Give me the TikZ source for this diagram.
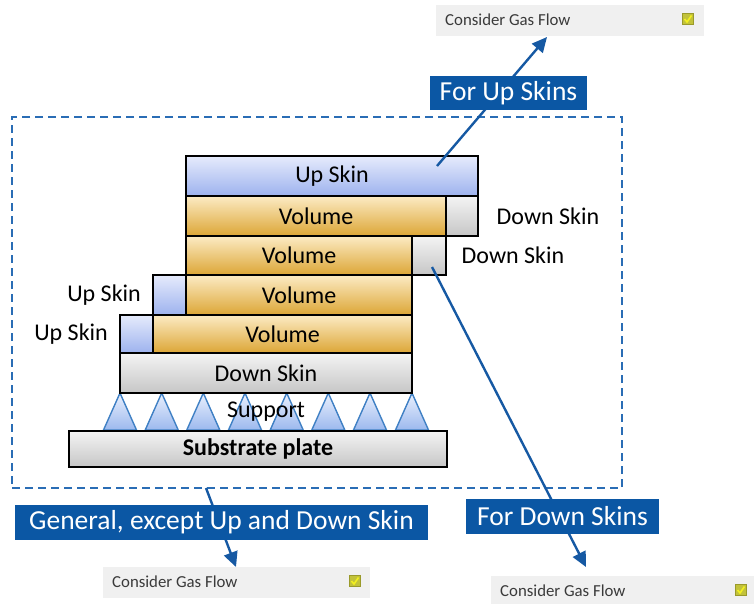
\documentclass[tikz,border=0pt]{standalone}
\usepackage{fontspec}
\setmainfont{Carlito}
\usetikzlibrary{arrows.meta}
\definecolor{lblue}{HTML}{0B57A4}
\definecolor{arrblue}{HTML}{1659A3}
\definecolor{dashblue}{HTML}{2A6DB5}
\definecolor{gfbg}{HTML}{F0F0F0}
\definecolor{gftext}{HTML}{3A3A3A}
\definecolor{HTML_E6EBFC}{HTML}{E6EBFC}
\definecolor{HTML_9DB2EE}{HTML}{9DB2EE}
\definecolor{HTML_FCEBC4}{HTML}{FCEBC4}
\definecolor{HTML_DCA636}{HTML}{DCA636}
\definecolor{HTML_F4F4F4}{HTML}{F4F4F4}
\definecolor{HTML_C6C6C6}{HTML}{C6C6C6}
\definecolor{HTML_3F80C4}{HTML}{3F80C4}
\definecolor{HTML_EAF0FD}{HTML}{EAF0FD}
\definecolor{HTML_9CB9EE}{HTML}{9CB9EE}
\definecolor{HTML_9A9A2A}{HTML}{9A9A2A}
\definecolor{chkfill}{HTML}{C2C23A}
\definecolor{chkline}{HTML}{F2F020}
\tikzset{
  shapebox/.style={draw=black, line width=1.6pt, inner sep=0pt, font=\fontsize{24}{28}\selectfont},
  upskin/.style={shapebox, top color=HTML_E6EBFC, bottom color=HTML_9DB2EE},
  volbox/.style={shapebox, top color=HTML_FCEBC4, bottom color=HTML_DCA636},
  greybox/.style={shapebox, top color=HTML_F4F4F4, bottom color=HTML_C6C6C6},
  outlbl/.style={font=\fontsize{24}{28}\selectfont, inner sep=0pt},
  tag/.style={fill=lblue, text=white, inner sep=0pt, font=\fontsize{27.5}{32}\selectfont},
  gfbox/.style={fill=gfbg, inner sep=0pt},
  gftxt/.style={text=gftext, font=\fontsize{16.8}{20}\selectfont, inner sep=0pt, anchor=west},
  conn/.style={draw=arrblue, line width=2.4pt, -{Triangle[length=15pt,width=14pt]}},
  supp/.style={draw=HTML_3F80C4, line width=1.4pt, top color=HTML_EAF0FD, bottom color=HTML_9CB9EE},
}
% box macro: name, style, x1, y1, x2, y2, text
\newcommand\mybx[7]{\node[#2, minimum width={#5-#3}, minimum height={#6-#4}] (#1) at ({(#3+#5)/2},{(#4+#6)/2}) {#7};}
\newcommand\mychk[3]{%
  \node[draw=HTML_9A9A2A, fill=chkfill, line width=0.6pt, minimum size=11pt, inner sep=0pt] (#1) at (#2,#3) {};
  \draw[chkline, line width=1.6pt] ([shift={(-3.5,0)}]#1.center) -- ([shift={(-1,3)}]#1.center) -- ([shift={(3.5,-3.5)}]#1.center);}
\begin{document}
\begin{tikzpicture}[x=1pt,y=-1pt]
\useasboundingbox (0,0) rectangle (754,603);
% dashed region
\node[draw=dashblue, dash pattern=on 8pt off 5pt, line width=1.6pt, minimum width=610pt, minimum height=371pt, inner sep=0pt] (region) at (317,302.5) {};
% support triangles
\foreach \ax in {120,161.7,203.3,245,286.7,328.3,370,412}{
  \path[supp] (\ax,393) -- (\ax+16.5,430) -- (\ax-16.5,430) -- cycle;
}
\node[outlbl] (support) at (266,412) {Support};
% layers
\mybx{topup}{upskin}{186}{156}{478}{196}{Up Skin}
\mybx{vol1}{volbox}{186}{196}{446}{236}{Volume}
\mybx{ds1}{greybox}{446}{196}{478}{236}{}
\mybx{vol2}{volbox}{186}{236}{412}{275}{Volume}
\mybx{ds2}{greybox}{412}{236}{446}{275}{}
\mybx{us3}{upskin}{153}{275}{186}{315}{}
\mybx{vol3}{volbox}{186}{275}{412}{315}{Volume}
\mybx{us4}{upskin}{120}{315}{153}{353}{}
\mybx{vol4}{volbox}{153}{315}{412}{353}{Volume}
\mybx{dsbar}{greybox}{120}{353}{412}{393}{Down Skin}
\mybx{substrate}{greybox}{69}{431}{447}{467}{\bfseries Substrate plate}
% outside labels
\node[outlbl] (lds1) at (548,216) {Down Skin};
\node[outlbl] (lds2) at (513,255) {Down Skin};
\node[outlbl, anchor=east] (lus3) at (141,295) {Up Skin};
\node[outlbl, anchor=east] (lus4) at (108,334) {Up Skin};
% gas flow boxes
\mybx{gftop}{gfbox}{436}{5}{704}{36}{}
\node[gftxt] (gftopt) at (445,20) {Consider Gas Flow};
\mychk{chktop}{688}{19}
\mybx{gfleft}{gfbox}{103}{567}{370}{598}{}
\node[gftxt] (gfleftt) at (112,582) {Consider Gas Flow};
\mychk{chkleft}{355}{581}
\mybx{gfright}{gfbox}{491}{576}{754}{606}{}
\node[gftxt] (gfrightt) at (500,591) {Consider Gas Flow};
\mychk{chkright}{741}{590}
% connectors
\coordinate (sUp) at (437,166);
\coordinate (tUp) at (547,37);
\coordinate (sDown) at (432,267);
\coordinate (tDown) at (586,567);
\coordinate (sGen) at (206,488);
\coordinate (tGen) at (236,567);
\draw[conn] (sUp) -- (tUp);
\draw[conn] (sDown) -- (tDown);
\draw[conn] (sGen) -- (tGen);
% tags
\mybx{tagup}{tag}{430}{76}{587}{110}{For Up Skins}
\mybx{taggen}{tag}{15}{505}{428}{540}{General, except Up and Down Skin}
\mybx{tagdown}{tag}{466}{499}{659}{534}{For Down Skins}
\end{tikzpicture}
\end{document}
